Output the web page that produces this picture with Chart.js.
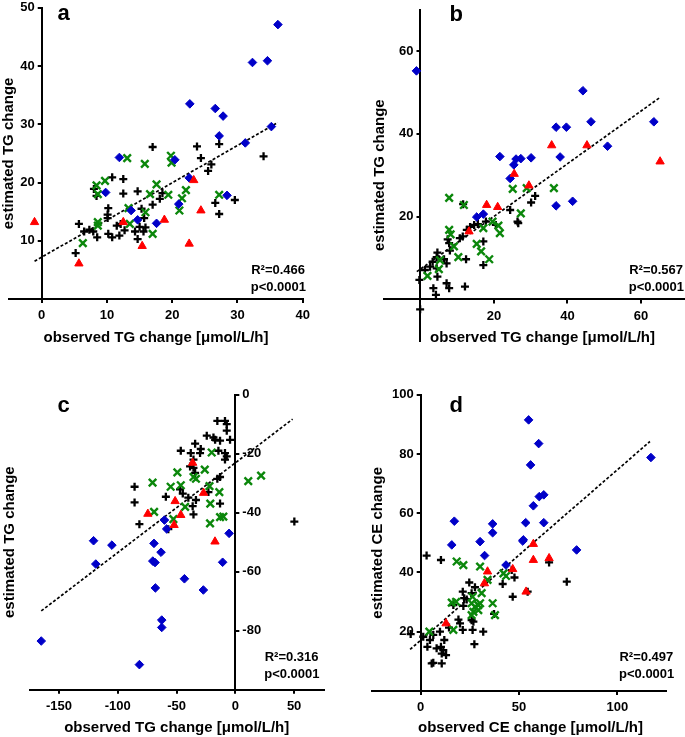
<!DOCTYPE html>
<html>
<head>
<meta charset="utf-8">
<script src="https://cdn.jsdelivr.net/npm/chart.js@4.4.0/dist/chart.umd.min.js"></script>
<style>
  html, body { margin: 0; padding: 0; background: #fff; width: 685px; height: 737px; overflow: hidden; }
  canvas { position: absolute; left: 0; top: 0; }
</style>
</head>
<body>
<canvas id="panelA" width="720" height="737"></canvas>
<canvas id="panelB" width="720" height="737"></canvas>
<canvas id="panelC" width="720" height="737"></canvas>
<canvas id="panelD" width="720" height="737"></canvas>
<script>
// ---- panel a: observed vs estimated TG change ----
const aXTicks = [0, 10, 20, 30, 40];
const aYTicks = [10, 20, 30, 40, 50];
const aPlus = [[5.2,7.9],[5.7,12.9],[6.5,11.6],[7.3,11.9],[7.9,11.6],[8.0,18.9],[8.4,17.7],[8.5,10.6],[10.1,14.5],[10.2,15.6],[10.1,13.9],[10.2,11.2],[10.8,20.9],[10.8,10.6],[11.5,12.6],[11.9,10.9],[12.1,12.9],[12.5,20.6],[12.5,18.1],[12.7,11.8],[14.3,11.6],[14.7,18.5],[14.7,10.3],[15.0,12.4],[15.3,15.5],[15.6,11.6],[15.7,13.9],[15.9,12.3],[17.0,16.2],[17.0,26.1],[18.1,17.2],[18.5,18.2],[23.8,26.2],[27.2,26.6],[24.4,24.2],[26.0,23.1],[25.5,22.0],[34.0,24.5],[26.6,16.5],[27.2,14.6],[29.6,17.0]];
const aCross = [[6.3,9.6],[8.4,19.5],[8.6,18.0],[9.7,20.3],[8.6,13.2],[8.6,12.6],[13.3,15.6],[13.5,12.9],[15.9,14.9],[16.6,18.0],[17.0,11.2],[17.6,19.7],[19.4,17.9],[21.1,15.2],[21.5,17.3],[22.1,18.7],[27.2,17.9],[13.1,24.2],[15.8,23.2],[19.8,24.6],[19.9,23.4]];
const aDiamond = [[9.8,18.3],[11.9,24.3],[13.7,15.2],[14.7,13.6],[17.6,13.0],[21.0,16.3],[22.6,20.8],[28.4,17.8],[20.4,23.9],[22.7,33.5],[26.6,32.7],[27.8,31.4],[27.2,28.0],[31.2,26.8],[35.2,29.6],[32.3,40.6],[34.6,40.9],[36.2,47.1]];
const aTriangle = [[-1.1,13.2],[5.7,6.1],[12.5,13.2],[15.4,9.1],[18.8,13.6],[22.6,9.5],[23.3,20.4],[24.4,15.2]];
const aFit = [[-1.1,6.5],[36.2,30.3]];

// ---- panel b ----
const bXTicks = [20, 40, 60];
const bYTicks = [20, 40, 60];
const bPlus = [[11.6,23.0],[24.4,21.6],[31.2,25.0],[30.1,23.4],[26.4,18.8],[26.6,18.4],[20.5,18.0],[17.8,18.8],[15.6,18.2],[14.6,18.0],[13.5,17.5],[12.6,16.8],[11.5,15.2],[10.7,14.8],[7.4,14.5],[7.8,13.6],[8.0,11.8],[12.4,9.7],[17.1,14.0],[17.1,8.3],[4.6,11.3],[4.4,10.2],[3.3,9.1],[6.4,9.7],[7.1,8.7],[2.6,7.9],[4.4,7.5],[1.2,7.1],[4.6,5.5],[-0.3,4.7],[7.1,3.9],[7.8,2.7],[12.1,3.1],[3.5,2.7],[4.2,1.1],[-0.1,-2.4]];
const bCross = [[7.8,24.5],[11.8,22.8],[25.1,26.7],[28.9,26.9],[36.3,26.9],[27.3,20.8],[7.8,16.8],[8.2,15.7],[9.1,12.8],[10.3,10.2],[15.3,13.4],[16.5,11.6],[18.7,9.7],[17.1,17.2],[19.6,18.8],[21.2,17.8],[21.6,16.0],[5.3,9.5],[1.9,5.7],[5.0,7.3]];
const bDiamond = [[-1.1,55.2],[21.6,34.5],[26.0,33.9],[25.4,32.5],[24.4,29.2],[27.3,34.0],[30.1,34.2],[38.0,34.4],[36.9,41.6],[39.7,41.6],[46.4,42.9],[44.2,50.4],[50.9,37.0],[63.5,42.9],[15.3,19.9],[17.1,20.6],[36.9,22.6],[41.4,23.7]];
const bTriangle = [[25.5,30.3],[29.5,27.5],[18.0,22.8],[21.0,22.3],[13.2,16.4],[35.7,37.2],[45.3,37.2],[65.2,33.3]];
const bFit = [[-1.0,6.7],[65.2,48.8]];

// ---- panel c ----
const cXTicks = [-150, -100, -50, 0, 50];
const cYTicks = [0, -20, -40, -60, -80];
const cPlus = [[-85.7,-31.2],[-85.7,-36.5],[-59.1,-34.6],[-81.6,-43.9],[-15.3,-8.9],[-8.8,-8.9],[-7.3,-10.0],[-7.3,-12.2],[-4.5,-15.3],[-24.3,-13.9],[-18.6,-14.5],[-17.2,-15.3],[-34.2,-16.6],[-13.0,-15.6],[-29.4,-18.4],[-37.9,-19.8],[-30.0,-19.8],[-46.4,-19.0],[-14.4,-19.0],[-8.8,-19.8],[-7.3,-20.9],[-8.8,-22.0],[-35.6,-22.0],[-38.5,-24.3],[-35.6,-24.8],[-34.2,-26.5],[-13.0,-27.9],[-15.3,-28.5],[-47.0,-32.1],[-44.7,-33.5],[-22.9,-33.0],[-40.0,-34.9],[-33.5,-35.7],[-36.3,-37.8],[-13.0,-36.9],[-35.6,-40.6],[-57.0,-45.6],[50.2,-43.0]];
const cCross = [[-70.4,-29.8],[-69.1,-39.7],[-20.1,-19.6],[-49.3,-26.3],[-26.0,-25.4],[-35.6,-27.9],[-33.5,-28.5],[11.0,-29.3],[21.9,-27.4],[-55.0,-31.2],[-46.4,-30.7],[-22.0,-31.0],[-13.6,-33.0],[-21.3,-36.9],[-42.7,-38.0],[-13.0,-41.5],[-10.2,-41.3],[-21.5,-43.6],[-52.7,-42.2]];
const cDiamond = [[-60.3,-42.5],[-120.6,-49.5],[-105.0,-51.0],[-69.2,-50.4],[-58.4,-45.5],[-5.3,-47.0],[-63.2,-53.4],[-70.2,-56.4],[-68.3,-56.9],[-118.7,-57.4],[-10.8,-56.8],[-43.3,-62.4],[-27.2,-66.2],[-68.0,-65.5],[-62.6,-76.4],[-62.6,-78.9],[-165.1,-83.5],[-81.6,-91.5]];
const cTriangle = [[-74.4,-40.4],[-36.3,-23.1],[-27.0,-33.3],[-51.2,-36.1],[-46.4,-40.8],[-52.1,-44.2],[-17.3,-49.8]];
const cFit = [[-165.1,-73.3],[48.7,-8.3]];

// ---- panel d: CE change ----
const dXTicks = [0, 50, 100];
const dYTicks = [20, 40, 60, 80, 100];
const dPlus = [[3.0,45.7],[10.3,44.2],[65.3,43.4],[74.3,36.9],[46.3,40.8],[47.7,38.3],[41.7,36.1],[46.8,31.8],[54.4,33.5],[24.7,36.6],[27.6,35.0],[25.9,33.0],[21.4,33.5],[22.1,31.3],[23.4,30.9],[16.6,29.0],[21.7,28.7],[19.2,24.1],[20.0,22.8],[25.9,23.9],[26.8,23.4],[37.3,26.0],[21.4,20.6],[26.4,20.6],[31.8,20.0],[14.4,21.4],[9.8,20.0],[6.4,18.9],[-5.1,19.2],[1.3,18.3],[4.7,17.2],[12.0,17.2],[3.4,14.9],[8.1,14.4],[10.3,14.9],[11.5,13.8],[12.9,12.1],[10.7,12.6],[27.3,15.8],[5.6,9.3],[6.4,9.5],[10.7,9.3]];
const dCross = [[18.3,43.7],[21.7,42.5],[30.2,42.0],[34.0,37.5],[42.1,39.7],[43.4,38.8],[15.8,29.8],[18.0,30.1],[26.4,31.8],[25.9,29.6],[27.6,28.4],[29.3,29.0],[30.2,29.6],[31.0,33.0],[26.8,26.7],[25.9,25.6],[29.3,27.3],[36.6,29.6],[37.8,25.6],[4.4,20.0],[16.6,20.6]];
const dDiamond = [[17.1,57.3],[15.8,49.3],[30.2,50.4],[36.6,56.4],[36.6,53.4],[54.9,91.5],[60.0,83.5],[55.9,76.3],[60.3,65.6],[62.6,66.2],[57.3,62.5],[53.4,56.8],[62.6,56.8],[52.2,51.0],[117.1,78.8],[79.3,47.6],[51.9,50.6],[32.5,45.7],[43.4,42.5]];
const dTriangle = [[57.3,49.6],[57.3,44.2],[65.3,44.8],[34.0,40.3],[32.4,36.3],[46.8,41.1],[53.6,33.5],[12.9,22.8]];
const dFit = [[-5.4,14.0],[116.6,84.2]];

const FONT = '"Liberation Sans", Arial, Helvetica, sans-serif';
const TITLE_LH = 18;
Chart.defaults.color = '#000';
Chart.defaults.font.family = FONT;

const tickFont = { family: FONT, size: 13, weight: 'bold' };
const titleFont = { family: FONT, size: 15, weight: 'bold' };

function toPts(arr) {
  return arr.map(p => ({ x: p[0], y: p[1] }));
}

// scales take no room, the plugin below puts them in place
function zeroSize(s) {
  if (s.isHorizontal()) s.height = 0; else s.width = 0;
  s.paddingLeft = s.paddingRight = s.paddingTop = s.paddingBottom = 0;
}

function axisScale(min, max, ticks, position, pad) {
  return {
    type: 'linear', position: position, min: min, max: max,
    afterBuildTicks: s => { s.ticks = ticks.map(v => ({ value: v })); },
    afterFit: zeroSize,
    ticks: { font: tickFont, color: '#000', padding: pad, autoSkip: false, maxRotation: 0, callback: v => v },
    grid: { display: true, drawOnChartArea: false, drawTicks: true, tickLength: 4, color: '#000', lineWidth: 2 },
    border: { display: true, color: '#000', width: 2 },
    title: { display: false }
  };
}

function titleScale(axis, position, text) {
  return {
    type: 'linear', axis: axis, position: position, min: 0, max: 1,
    afterFit: zeroSize,
    ticks: { display: false },
    grid: { display: false },
    border: { display: false },
    title: { display: true, text: text, font: titleFont, color: '#000', padding: 0 }
  };
}

function series(pts, style, color, radius, bw) {
  return {
    data: toPts(pts), showLine: false, clip: false,
    pointStyle: style, pointRadius: radius, pointHoverRadius: radius,
    pointBackgroundColor: color, pointBorderColor: color, pointBorderWidth: bw
  };
}

function makePanel(cfg) {
  const crossAxes = {
    id: 'crossAxes',
    afterLayout(chart) {
      const { x, y, xt, yt } = chart.scales;
      const x0 = x.getPixelForValue(0);
      if (cfg.yRight) { y.left = x0; y.right = x0 + 40; }
      else { y.left = x0 - 40; y.right = x0; }
      const yb = y.getPixelForValue(cfg.xAt);
      x.top = yb; x.bottom = yb + 30;
      yt.left = cfg.yTitleX - TITLE_LH / 2; yt.right = yt.left + TITLE_LH;
      xt.left = cfg.xTitleX - 200; xt.right = cfg.xTitleX + 200;
      xt.bottom = cfg.xTitleY + TITLE_LH / 2; xt.top = xt.bottom - TITLE_LH;
    }
  };
  const panelText = {
    id: 'panelText',
    afterDraw(chart) {
      const ctx = chart.ctx;
      ctx.save();
      ctx.fillStyle = '#000';
      cfg.texts.forEach(t => {
        ctx.font = t.font;
        ctx.textAlign = t.align;
        ctx.textBaseline = t.base;
        ctx.fillText(t.text, t.x, t.y);
      });
      ctx.restore();
    }
  };
  return new Chart(document.getElementById(cfg.id), {
    type: 'scatter',
    data: {
      datasets: [
        series(cfg.triangle, 'triangle', '#ff0000', 4.8, 1),
        series(cfg.diamond, 'rectRot', '#0000c8', 4.3, 1),
        series(cfg.cross, 'crossRot', '#0b870b', 5.3, 2.4),
        series(cfg.plus, 'cross', '#000000', 4, 2.3),
        {
          data: toPts(cfg.fit), showLine: true, clip: false,
          borderColor: '#000', borderWidth: 1.7, borderDash: [3, 2],
          pointRadius: 0, pointHoverRadius: 0, fill: false
        }
      ]
    },
    options: {
      responsive: false,
      animation: false,
      devicePixelRatio: 1,
      events: [],
      layout: { padding: cfg.area },
      plugins: { legend: { display: false }, tooltip: { enabled: false } },
      scales: {
        x: axisScale(cfg.xMin, cfg.xMax, cfg.xTicks, 'bottom', 5),
        y: axisScale(cfg.yMin, cfg.yMax, cfg.yTicks, cfg.yRight ? 'right' : 'left', 3),
        xt: titleScale('x', 'bottom', cfg.xTitle),
        yt: titleScale('y', 'left', cfg.yTitle)
      }
    },
    plugins: [crossAxes, panelText]
  });
}

const cfgR2 = { a: 'R\u00b2=0.466', b: 'R\u00b2=0.567', c: 'R\u00b2=0.316', d: 'R\u00b2=0.497' };
function notes(letter, lx, ly, rx, ry) {
  return [
    { text: letter, x: lx, y: ly, font: 'bold 22px ' + FONT, align: 'left', base: 'alphabetic' },
    { text: cfgR2[letter], x: rx, y: ry, font: 'bold 13px ' + FONT, align: 'right', base: 'middle' },
    { text: 'p<0.0001', x: rx + 1, y: ry + 17, font: 'bold 13px ' + FONT, align: 'right', base: 'middle' }
  ];
}

makePanel({
  id: 'panelA', xMin: -5, xMax: 40, yMin: 0, yMax: 50, xAt: 0,
  xTicks: aXTicks, yTicks: aYTicks,
  plus: aPlus, cross: aCross, diamond: aDiamond, triangle: aTriangle, fit: aFit,
  area: { left: 9.1, right: 417.3, top: 5, bottom: 437.9 },
  xTitle: 'observed TG change [\u03bcmol/L/h]', yTitle: 'estimated TG change',
  xTitleX: 156, xTitleY: 338.3, yTitleX: 9,
  texts: notes('a', 57.5, 20, 305, 270)
});

makePanel({
  id: 'panelB', xMin: -10, xMax: 75, yMin: -10, yMax: 70, xAt: 0,
  xTicks: bXTicks, yTicks: bYTicks,
  plus: bPlus, cross: bCross, diamond: bDiamond, triangle: bTriangle, fit: bFit,
  area: { left: 383.75, right: 23.9, top: 9.6, bottom: 396.2 },
  xTitle: 'observed TG change [\u03bcmol/L/h]', yTitle: 'estimated TG change',
  xTitleX: 542.5, xTitleY: 338.3, yTitleX: 380,
  texts: notes('b', 449.5, 20.5, 683, 270)
});

makePanel({
  id: 'panelC', xMin: -175, xMax: 75, yMin: -100, yMax: 0, xAt: -100, yRight: true,
  xTicks: cXTicks, yTicks: cYTicks,
  plus: cPlus, cross: cCross, diamond: cDiamond, triangle: cTriangle, fit: cFit,
  area: { left: 29.6, right: 396.5, top: 394.7, bottom: 47.3 },
  xTitle: 'observed TG change [\u03bcmol/L/h]', yTitle: 'estimated TG change',
  xTitleX: 176.7, xTitleY: 728.3, yTitleX: 9.5,
  texts: notes('c', 57.5, 411.5, 318.5, 657.3)
});

makePanel({
  id: 'panelD', xMin: -25, xMax: 125, yMin: 0, yMax: 100, xAt: 0,
  xTicks: dXTicks, yTicks: dYTicks,
  plus: dPlus, cross: dCross, diamond: dDiamond, triangle: dTriangle, fit: dFit,
  area: { left: 371.55, right: 53.55, top: 394.7, bottom: 46.05 },
  xTitle: 'observed CE change [\u03bcmol/L/h]', yTitle: 'estimated CE change',
  xTitleX: 530.5, xTitleY: 728.3, yTitleX: 378,
  texts: notes('d', 449.5, 411.5, 673.3, 657.3)
});
</script>
</body>
</html>
